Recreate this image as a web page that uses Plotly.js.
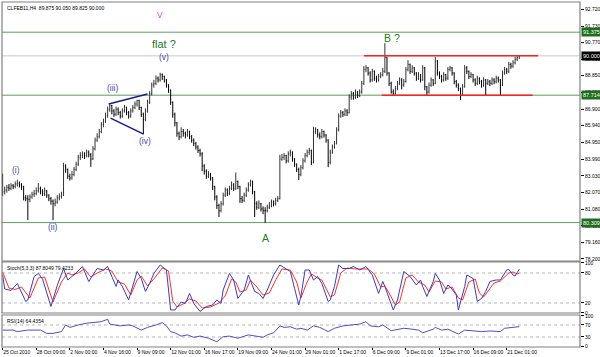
<!DOCTYPE html>
<html><head><meta charset="utf-8">
<script src="https://cdn.plot.ly/plotly-3.0.1.min.js"></script>
<style>html,body{margin:0;padding:0;background:#fff}#chart{width:600px;height:357px}</style>
</head><body><div id="chart"></div>
<script>
const symbolTitle = 'CLFEB11,H4  89.875 90.050 89.825 90.000';
const stochTitle = 'Stoch(5,3,3) 87.8049 79.4233';
const rsiTitle = 'RSI(14) 64.4354';
const dateLabels = ['25 Oct 2010','28 Oct 09:00','2 Nov 00:00','4 Nov 16:00','9 Nov 09:00','12 Nov 01:00','16 Nov 17:00','19 Nov 09:00','24 Nov 01:00','29 Nov 01:00','1 Dec 17:00','6 Dec 09:00','9 Dec 01:00','13 Dec 17:00','16 Dec 09:00','21 Dec 01:00'];
const barsPerLabel = 16;

const barOpen = [82.90,82.10,82.20,82.35,82.30,82.45,82.40,82.55,82.60,82.50,
82.40,81.75,81.70,81.65,81.80,81.95,82.00,82.15,82.30,82.10,
82.00,82.15,81.90,81.70,81.55,81.40,81.50,81.75,81.85,81.90,
83.60,83.40,83.00,82.90,83.10,83.40,83.70,84.10,84.20,84.30,
84.20,84.40,84.25,84.00,84.60,85.10,85.30,85.60,86.00,86.20,
86.50,86.90,87.10,86.80,86.60,86.90,86.70,86.50,86.80,87.00,
86.70,86.50,86.80,87.00,87.20,87.40,87.00,86.60,86.30,86.80,
87.30,87.80,88.30,88.40,88.70,88.60,88.90,88.80,88.60,88.30,
88.00,87.30,86.60,86.10,85.50,85.30,85.60,85.50,85.40,85.60,
85.30,85.10,84.90,84.70,84.50,84.30,83.60,83.30,83.00,83.10,
82.90,82.40,81.80,81.30,81.00,81.40,81.90,82.20,82.00,82.30,
82.50,82.30,82.70,82.40,81.70,81.60,81.90,82.20,82.50,82.70,
82.10,81.40,81.20,81.40,81.10,81.00,81.00,81.20,81.30,81.50,
81.40,81.60,81.70,84.00,84.10,84.20,83.90,84.30,84.40,84.00,
83.70,83.40,83.10,83.50,83.90,84.20,84.40,84.50,83.80,85.60,
85.70,85.40,85.30,85.60,85.40,85.10,83.80,84.40,84.70,84.90,
85.70,86.50,86.70,86.60,86.80,86.70,87.60,87.80,87.60,87.90,
87.70,87.90,88.40,89.20,89.30,89.00,88.60,89.10,88.70,88.60,
88.80,88.90,89.10,89.90,89.00,88.40,87.90,87.80,88.10,88.40,
88.60,88.30,88.50,89.20,89.50,89.10,89.30,89.00,88.70,88.90,
88.60,89.30,88.20,87.90,88.30,88.60,88.40,89.70,89.00,88.80,
88.60,88.90,88.70,89.20,89.30,89.00,88.50,88.30,88.10,87.80,
88.20,89.30,89.10,88.80,88.90,88.60,88.40,88.70,88.50,88.30,
88.60,88.40,88.50,88.40,88.60,88.50,88.70,88.60,88.30,89.00,
89.20,89.10,89.50,89.40,89.60,89.80,89.875];
const barHigh = [83.15,82.40,82.50,82.55,82.60,82.55,82.70,82.80,82.70,82.60,
82.45,81.90,81.90,81.95,82.10,82.20,82.35,82.60,82.40,82.25,
82.35,82.20,81.95,81.80,81.65,81.70,81.90,82.00,82.10,83.78,
83.70,83.45,83.15,83.30,83.55,83.85,84.25,84.40,84.45,84.40,
84.55,84.50,84.35,84.75,85.25,85.50,85.75,86.15,86.35,86.70,
87.05,87.25,87.15,86.90,87.05,87.00,86.80,86.95,87.15,87.05,
86.80,86.95,87.15,87.35,87.45,87.45,87.05,86.70,86.95,87.45,
87.95,88.45,88.60,88.85,88.80,89.02,88.98,88.85,88.65,88.35,
88.05,87.35,86.70,86.15,85.60,85.85,85.75,85.60,85.75,85.65,
85.40,85.20,85.00,84.80,84.60,84.40,83.70,83.40,83.30,83.20,
82.95,82.45,81.90,81.40,81.55,82.05,82.35,82.30,82.45,82.70,
82.60,83.22,82.75,82.45,81.85,82.05,82.35,82.65,82.80,82.75,
82.15,81.55,81.60,81.45,81.25,81.20,81.35,81.50,81.65,81.60,
81.75,81.85,84.25,84.30,84.35,84.25,84.45,84.55,84.45,84.05,
83.75,83.50,83.65,84.05,84.35,84.55,84.65,84.55,85.88,85.85,
85.75,85.55,85.75,85.65,85.45,85.15,84.55,84.85,85.05,85.85,
86.65,86.85,86.80,86.95,86.90,87.75,87.95,87.90,88.05,87.95,
88.05,88.55,89.40,89.46,89.35,89.10,89.25,89.15,88.85,88.95,
89.05,89.30,90.74,89.95,89.05,88.50,88.05,88.25,88.55,88.75,
88.70,88.65,89.35,89.75,89.55,89.45,89.35,89.05,89.05,88.95,
89.45,89.35,88.25,88.45,88.75,88.65,89.93,89.75,89.10,88.90,
89.05,88.95,89.35,89.42,89.35,89.05,88.60,88.40,88.15,88.35,
89.46,89.40,89.15,89.05,88.95,88.70,88.85,88.75,88.60,88.75,
88.65,88.65,88.60,88.75,88.70,88.85,88.80,88.65,89.15,89.35,
89.30,89.65,89.60,89.75,89.95,90.05,90.05];
const barLow = [81.85,81.95,82.05,82.15,82.20,82.25,82.30,82.40,82.35,82.20,
81.60,81.55,80.45,81.50,81.70,81.80,81.90,82.05,81.95,81.85,
81.85,81.75,81.55,81.35,80.45,81.25,81.40,81.60,81.70,81.85,
83.20,82.85,82.75,82.80,83.00,83.30,83.60,83.95,84.05,84.00,
84.10,84.10,83.55,83.95,84.50,85.00,85.20,85.50,85.85,86.10,
86.40,86.75,86.60,86.45,86.50,86.55,86.35,86.40,86.70,86.55,
86.35,86.40,86.70,86.90,87.05,86.85,86.45,85.45,86.20,86.70,
87.20,87.70,88.15,88.30,88.45,88.50,88.60,88.45,88.15,87.85,
87.15,86.40,85.90,85.30,85.10,85.20,85.30,85.20,85.30,85.15,
84.95,84.75,84.55,84.35,84.15,83.30,83.10,82.85,82.90,82.75,
82.20,81.60,81.10,80.63,80.90,81.30,81.80,81.85,81.90,82.20,
82.15,82.20,82.25,81.45,81.45,81.50,81.80,82.10,82.40,81.95,
80.63,81.05,81.10,80.95,80.80,80.30,80.90,81.10,81.20,81.25,
81.30,81.50,81.65,83.90,83.95,83.75,83.80,84.15,83.85,83.55,
83.25,82.78,83.00,83.40,83.80,84.10,84.25,83.65,83.75,85.45,
85.25,85.15,85.20,85.25,84.95,83.53,83.70,84.30,84.60,84.85,
85.60,86.40,86.45,86.50,86.50,86.65,87.45,87.45,87.50,87.55,
87.60,87.80,88.30,89.05,88.85,88.45,88.50,88.55,88.45,88.50,
88.70,88.80,89.00,88.85,88.25,87.80,87.71,87.75,88.00,88.30,
88.05,88.20,88.45,89.10,88.95,89.00,88.85,88.55,88.60,88.45,
88.55,88.00,87.66,87.80,88.20,88.25,88.35,88.85,88.65,88.45,
88.50,88.55,88.60,89.10,88.85,88.35,88.15,87.95,87.43,87.70,
88.15,88.95,88.65,88.70,88.45,88.25,88.30,88.35,88.15,88.20,
87.72,88.30,88.25,88.30,88.35,88.40,88.45,87.72,88.25,88.90,
88.95,89.00,89.25,89.30,89.50,89.70,89.825];
const barClose = [82.10,82.20,82.35,82.30,82.45,82.40,82.55,82.60,82.50,82.40,
81.75,81.70,81.65,81.80,81.95,82.00,82.15,82.30,82.10,82.00,
82.15,81.90,81.70,81.55,81.40,81.50,81.75,81.85,81.90,83.60,
83.40,83.00,82.90,83.10,83.40,83.70,84.10,84.20,84.30,84.20,
84.40,84.25,84.00,84.60,85.10,85.30,85.60,86.00,86.20,86.50,
86.90,87.10,86.80,86.60,86.90,86.70,86.50,86.80,87.00,86.70,
86.50,86.80,87.00,87.20,87.40,87.00,86.60,86.30,86.80,87.30,
87.80,88.30,88.40,88.70,88.60,88.90,88.80,88.60,88.30,88.00,
87.30,86.60,86.10,85.50,85.30,85.60,85.50,85.40,85.60,85.30,
85.10,84.90,84.70,84.50,84.30,83.60,83.30,83.00,83.10,82.90,
82.40,81.80,81.30,81.00,81.40,81.90,82.20,82.00,82.30,82.50,
82.30,82.70,82.40,81.70,81.60,81.90,82.20,82.50,82.70,82.10,
81.40,81.20,81.40,81.10,81.00,81.00,81.20,81.30,81.50,81.40,
81.60,81.70,84.00,84.10,84.20,83.90,84.30,84.40,84.00,83.70,
83.40,83.10,83.50,83.90,84.20,84.40,84.50,83.80,85.60,85.70,
85.40,85.30,85.60,85.40,85.10,83.80,84.40,84.70,84.90,85.70,
86.50,86.70,86.60,86.80,86.70,87.60,87.80,87.60,87.90,87.70,
87.90,88.40,89.20,89.30,89.00,88.60,89.10,88.70,88.60,88.80,
88.90,89.10,89.90,89.00,88.40,87.90,87.80,88.10,88.40,88.60,
88.30,88.50,89.20,89.50,89.10,89.30,89.00,88.70,88.90,88.60,
89.30,88.20,87.90,88.30,88.60,88.40,89.70,89.00,88.80,88.60,
88.90,88.70,89.20,89.30,89.00,88.50,88.30,88.10,87.80,88.20,
89.30,89.10,88.80,88.90,88.60,88.40,88.70,88.50,88.30,88.60,
88.40,88.50,88.40,88.60,88.50,88.70,88.60,88.30,89.00,89.20,
89.10,89.50,89.40,89.60,89.80,89.90,90.00];

const stochKX = [0,1,4,7,11,12,15,17,19,23,26,29,31,35,38,41,45,48,50,51,54,55,57,60,62,64,66,68,70,72,75,78,80,82,85,87,89,91,94,97,100,102,104,105,108,110,112,115,117,120,122,124,126,129,132,136,137,139,141,142,144,146,148,150,152,155,156,158,160,162,165,167,170,173,176,179,181,182,185,186,188,191,194,197,199,200,202,205,206,208,210,212,213,216,217,220,221,224,226,228,230,232,235,237,240,241,243,244,246];
const stochK = [76,48,45,59,23,26,73,79,68,13,55,89,66,80,93,63,89,86,93,82,53,66,53,26,53,83,69,43,59,79,96,86,6,6,22,19,39,19,3,13,16,26,19,46,79,66,29,46,76,43,39,29,46,76,96,86,83,49,16,33,86,86,66,73,59,23,26,53,96,89,89,93,86,93,76,39,63,53,19,6,26,83,73,56,66,53,33,63,79,66,39,56,53,36,6,53,76,69,23,29,43,63,66,66,86,87,76,74,87.8];
const stochDX = [0,3,6,9,13,17,20,24,28,31,33,36,39,42,45,49,52,55,58,61,64,66,69,72,76,79,81,83,86,89,92,95,99,103,106,109,111,113,116,118,121,124,127,130,133,137,140,142,145,147,150,152,156,158,161,164,168,171,174,177,180,182,184,187,189,192,195,198,201,203,206,209,211,214,217,219,222,225,227,229,231,234,237,241,243,245,246];
const stochD = [82,50,47,52,30,70,72,22,62,80,76,80,88,72,80,88,84,62,58,36,66,74,54,68,90,84,24,12,18,28,24,10,12,20,34,68,62,42,46,66,52,36,40,66,88,86,62,30,62,78,70,66,32,36,80,90,88,88,88,78,52,54,40,16,22,70,76,62,56,42,64,62,48,52,30,26,62,68,40,32,44,60,64,80,82,78,79.4];
const rsiX = [0,5,7,12,18,21,24,28,30,32,36,40,47,50,51,54,56,60,62,66,69,73,76,78,80,82,85,88,91,94,98,102,105,108,112,117,120,124,126,129,132,134,137,140,142,145,148,151,155,158,162,167,170,173,175,179,181,185,188,191,194,198,200,205,206,209,212,215,217,220,224,228,232,237,239,243,246];
const rsiValues = [53,53,48,53,53,42,42,48,70,62,70,76,81,89,73,70,67,70,67,53,62,70,78,67,48,44,33,37,29,33,26,14,31,33,26,37,33,29,37,44,67,62,64,56,59,53,67,62,48,59,67,70,73,81,67,64,70,51,56,59,57,53,44,56,62,53,56,48,40,53,51,48,50,48,59,62,64.4];

const priceTicks = [92.72,91.73,90.77,89.81,88.85,87.89,86.90,85.94,84.95,83.99,83.03,82.07,81.08,80.12,79.16,78.20];
const stochTicks = [0,20,80,100];
const rsiTicks = [0,30,70,100];
const greenLevels = [91.375, 87.714, 80.309];
const bidPrice = 90.000;
const channelTopX = [172,255], channelTopY = [90.0,90.0];
const channelBotX = [180.5,252.4], channelBotY = [87.714,87.714];
const triUpperX = [50.5,69], triUpperY = [87.20,87.78];
const triLowerX = [51.4,67.1], triLowerY = [86.38,85.45];
const waveLabels = [
  {t:'V', x:74.8, y:92.37, c:'#e040e0', s:8.5},
  {t:'flat ?', x:76.7, y:90.69, c:'#1e7b1e', s:11},
  {t:'(v)', x:76.7, y:89.93, c:'#4646b4', s:8.5},
  {t:'(iii)', x:52.4, y:88.13, c:'#4646b4', s:8.5},
  {t:'(iv)', x:67.6, y:85.05, c:'#4646b4', s:8.5},
  {t:'(i)', x:6.2, y:83.36, c:'#4646b4', s:8.5},
  {t:'(ii)', x:23.8, y:80.05, c:'#4646b4', s:8.5},
  {t:'A', x:125.2, y:79.41, c:'#1e7b1e', s:10.5},
  {t:'B ?', x:185.2, y:91.03, c:'#1e7b1e', s:10.5}
];

const F = 'Liberation Sans, Arial, sans-serif';
const barIdx = barClose.map((_, i) => i);
const dateTickPos = dateLabels.map((_, i) => i * barsPerLabel);

const traces = [
  {type:'ohlc', x:barIdx, open:barOpen, high:barHigh, low:barLow, close:barClose, xaxis:'x', yaxis:'y',
   increasing:{line:{color:'#333', width:1}}, decreasing:{line:{color:'#000', width:1}}, tickwidth:0.3, hoverinfo:'skip'},
  {type:'scatter', mode:'lines', x:triUpperX, y:triUpperY, xaxis:'x', yaxis:'y', line:{color:'#1a1a9a', width:1.5}},
  {type:'scatter', mode:'lines', x:triLowerX, y:triLowerY, xaxis:'x', yaxis:'y', line:{color:'#1a1a9a', width:1.5}},
  {type:'scatter', mode:'lines', x:channelTopX, y:channelTopY, xaxis:'x', yaxis:'y', line:{color:'#ff2020', width:1.5}},
  {type:'scatter', mode:'lines', x:channelBotX, y:channelBotY, xaxis:'x', yaxis:'y', line:{color:'#ff2020', width:1.5}},
  {type:'scatter', mode:'lines', x:stochDX, y:stochD, xaxis:'x', yaxis:'y2', line:{color:'#ff3030', width:1}},
  {type:'scatter', mode:'lines', x:stochKX, y:stochK, xaxis:'x', yaxis:'y2', line:{color:'#3c3cb8', width:1}},
  {type:'scatter', mode:'lines', x:rsiX, y:rsiValues, xaxis:'x', yaxis:'y3', line:{color:'#5050c0', width:1}}
];

const shapes = [];
greenLevels.forEach(v => shapes.push({type:'line', xref:'paper', x0:0, x1:1, yref:'y', y0:v, y1:v, line:{color:'#5a9e5a', width:1}, layer:'below'}));
shapes.push({type:'line', xref:'paper', x0:0, x1:1, yref:'y', y0:bidPrice, y1:bidPrice, line:{color:'#c8c8c8', width:1}, layer:'below'});
[80,20].forEach(v => shapes.push({type:'line', xref:'paper', x0:0, x1:1, yref:'y2', y0:v, y1:v, line:{color:'#b8b8b8', width:1, dash:'dot'}, layer:'below'}));
[70,30].forEach(v => shapes.push({type:'line', xref:'paper', x0:0, x1:1, yref:'y3', y0:v, y1:v, line:{color:'#b8b8b8', width:1, dash:'dot'}, layer:'below'}));
['y domain','y2 domain','y3 domain'].forEach(r => shapes.push({type:'rect', xref:'paper', x0:0, x1:1, yref:r, y0:0, y1:1, line:{color:'#808080', width:1.2}, fillcolor:'rgba(0,0,0,0)'}));

const annotations = [];
function priceBox(v, bg) {
  return {xref:'paper', x:1, xanchor:'left', xshift:0.5, yref:'y', y:v, yanchor:'middle', text:v.toFixed(3), showarrow:false,
    font:{family:F, size:5.5, color:'#fff'}, bgcolor:bg, borderpad:1};
}
greenLevels.forEach(v => annotations.push(priceBox(v, '#1f6e1f')));
annotations.push(priceBox(bidPrice, '#000'));
annotations.push({xref:'paper', x:0, xanchor:'left', xshift:3, yref:'y domain', y:1, yanchor:'top', yshift:-1, text:symbolTitle, showarrow:false, font:{family:F, size:5, color:'#000'}});
annotations.push({xref:'paper', x:0, xanchor:'left', xshift:3, yref:'y2 domain', y:1, yanchor:'top', yshift:-1, text:stochTitle, showarrow:false, font:{family:F, size:5, color:'#000'}});
annotations.push({xref:'paper', x:0, xanchor:'left', xshift:3, yref:'y3 domain', y:1, yanchor:'top', yshift:-1, text:rsiTitle, showarrow:false, font:{family:F, size:5, color:'#000'}});
waveLabels.forEach(w => annotations.push({xref:'x', yref:'y', x:w.x, y:w.y, text:w.t, showarrow:false, font:{family:F, size:w.s, color:w.c}}));

const yBase = {side:'right', anchor:'x', showgrid:false, zeroline:false, showline:false, ticks:'outside', ticklen:3, tickcolor:'#000', tickwidth:1,
  tickfont:{family:F, size:5, color:'#000'}, tickmode:'array', fixedrange:true};

const layout = {
  width:600, height:357, margin:{l:2, r:20, t:2, b:10}, paper_bgcolor:'#fff', plot_bgcolor:'#fff', showlegend:false,
  xaxis:{domain:[0,1], range:[-0.3,274.9], anchor:'y3', showgrid:false, zeroline:false, showline:false,
    tickmode:'array', tickvals:dateTickPos, ticktext:dateLabels, ticks:'outside', ticklen:2, tickcolor:'#000', tickangle:0,
    tickfont:{family:F, size:5, color:'#000'}, ticklabelposition:'outside right', ticklabelstandoff:0, rangeslider:{visible:false}, fixedrange:true, automargin:false},
  yaxis:Object.assign({}, yBase, {domain:[0.249,1], range:[78.07,93.13], tickvals:priceTicks, ticktext:priceTicks.map(v => v.toFixed(3))}),
  yaxis2:Object.assign({}, yBase, {domain:[0.0986,0.2464], range:[0,102], tickvals:stochTicks, ticktext:stochTicks.map(String)}),
  yaxis3:Object.assign({}, yBase, {domain:[0,0.0928], range:[-3.3,103.3], tickvals:rsiTicks, ticktext:rsiTicks.map(String)}),
  shapes:shapes, annotations:annotations
};

Plotly.newPlot('chart', traces, layout, {staticPlot:true, displayModeBar:false});
</script>
</body></html>
